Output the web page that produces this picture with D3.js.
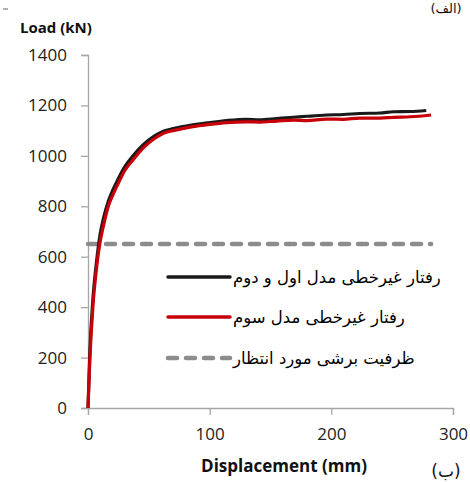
<!DOCTYPE html>
<html><head><meta charset="utf-8">
<script src="https://cdn.jsdelivr.net/npm/d3@7"></script>
<style>body{margin:0;background:#fff}svg{display:block}</style>
</head><body>
<script>
const disp1 = [0,1.5,4,7,10,12.6,16.7,20,25,30,37,45,55,62,70,85,100,114,130,141,155,169,180,196,210,223,240,251,265,278];
const load1 = [0,220,430,580,690,750,820,860,910,955,1000,1042,1080,1098,1108,1122,1132,1140,1145,1143,1148,1153,1157,1162,1164,1168,1170,1175,1176,1180];
const disp2 = [0,1.5,4,7,10,12.6,16.7,20,25,30,37,45,55,62,70,85,100,114,130,141,155,169,180,196,210,223,240,251,265,282];
const load2 = [0,190,400,554,660,720,800,840,892,940,984,1030,1070,1090,1100,1115,1125,1132,1135,1134,1138,1142,1140,1146,1145,1150,1150,1153,1155,1162];
const capacity = 650;
const capacityRange = [0, 282];
const xTicks = [0,100,200,300];
const yTicks = [0,200,400,600,800,1000,1200,1400];
const legendLabels = ["رفتار غیرخطی مدل اول و دوم","رفتار غیرخطی مدل سوم","ظرفیت برشی مورد انتظار"];
const xTitle = "Displacement (mm)";
const yTitle = "Load (kN)";

const W = 470, H = 482;
const svg = d3.select("body").append("svg").attr("width", W).attr("height", H);
const x = d3.scaleLinear().domain([0,300]).range([88,453]);
const y = d3.scaleLinear().domain([0,1400]).range([408,55]);
const axisColor = "#a6a6a6";
const tickFont = "'Open Sans', 'DejaVu Sans', sans-serif";

// y axis
const ya = svg.append("g").attr("transform", `translate(${x(0)},0)`)
  .call(d3.axisLeft(y).tickValues(yTicks).tickSize(7).tickPadding(14).tickFormat(d3.format("d")));
ya.select(".domain").attr("stroke", axisColor).attr("stroke-width", 1.3);
ya.selectAll(".tick line").attr("stroke", axisColor).attr("stroke-width", 1.3);
ya.selectAll(".tick text").attr("fill", "#222").style("font-family", tickFont).style("font-size", "17px");

// x axis
const xa = svg.append("g").attr("transform", `translate(0,${y(0)})`)
  .call(d3.axisBottom(x).tickValues(xTicks).tickSize(7).tickPadding(13).tickFormat(d3.format("d")));
xa.select(".domain").attr("stroke", axisColor).attr("stroke-width", 1.3);
xa.selectAll(".tick line").attr("stroke", axisColor).attr("stroke-width", 1.3);
xa.selectAll(".tick text").attr("fill", "#222").style("font-family", tickFont).style("font-size", "17px");

// capacity line
svg.append("line")
  .attr("x1", x(capacityRange[0])).attr("x2", x(capacityRange[1]))
  .attr("y1", y(capacity)).attr("y2", y(capacity))
  .attr("stroke", "#8c8c8c").attr("stroke-width", 4.5)
  .attr("stroke-dasharray", "9,9").attr("stroke-linecap", "round");

const line = d3.line().x(d => x(d[0])).y(d => y(d[1])).curve(d3.curveMonotoneX);
svg.append("path").datum(d3.zip(disp1, load1)).attr("d", line)
  .attr("fill", "none").attr("stroke", "#1a1a1a").attr("stroke-width", 3.2);
svg.append("path").datum(d3.zip(disp2, load2)).attr("d", line)
  .attr("fill", "none").attr("stroke", "#c8000a").attr("stroke-width", 3.2);

// legend
const legColors = ["#1a1a1a", "#c8000a", "#8c8c8c"];
const legY = [277, 317, 358];
legendLabels.forEach((t, i) => {
  const l = svg.append("line").attr("x1", 168).attr("x2", 230).attr("y1", legY[i]).attr("y2", legY[i])
    .attr("stroke", legColors[i]).attr("stroke-width", i === 2 ? 4.5 : 3.5).attr("stroke-linecap", "round");
  if (i === 2) l.attr("stroke-dasharray", "9,9");
  svg.append("text").attr("x", 233).attr("y", legY[i] + 6).attr("text-anchor", "start")
    .style("font-family", "'DejaVu Sans', sans-serif").style("font-size", "16.5px").attr("fill", "#000")
    .text(t);
});

// titles
svg.append("text").attr("x", 20).attr("y", 33).text(yTitle)
  .style("font-family", "'Open Sans', sans-serif").style("font-weight", "bold").style("font-size", "15px").attr("fill", "#111");
svg.append("text").attr("x", 284).attr("y", 472).attr("text-anchor", "middle").text(xTitle)
  .style("font-family", "'Open Sans', sans-serif").style("font-weight", "bold").style("font-size", "17px").attr("fill", "#111");

// panel markers
svg.append("text").attr("x", 446).attr("y", 477).attr("text-anchor", "middle").text("(ب)")
  .style("font-family", "'DejaVu Sans', sans-serif").style("font-size", "17px").attr("fill", "#111");
svg.append("text").attr("x", 446).attr("y", 13).attr("text-anchor", "middle").text("(الف)")
  .style("font-family", "'DejaVu Sans', sans-serif").style("font-size", "13px").attr("fill", "#111");
svg.append("line").attr("x1", 3).attr("x2", 8).attr("y1", 9).attr("y2", 9).attr("stroke", "#666").attr("stroke-width", 1);
</script>
</body></html>
